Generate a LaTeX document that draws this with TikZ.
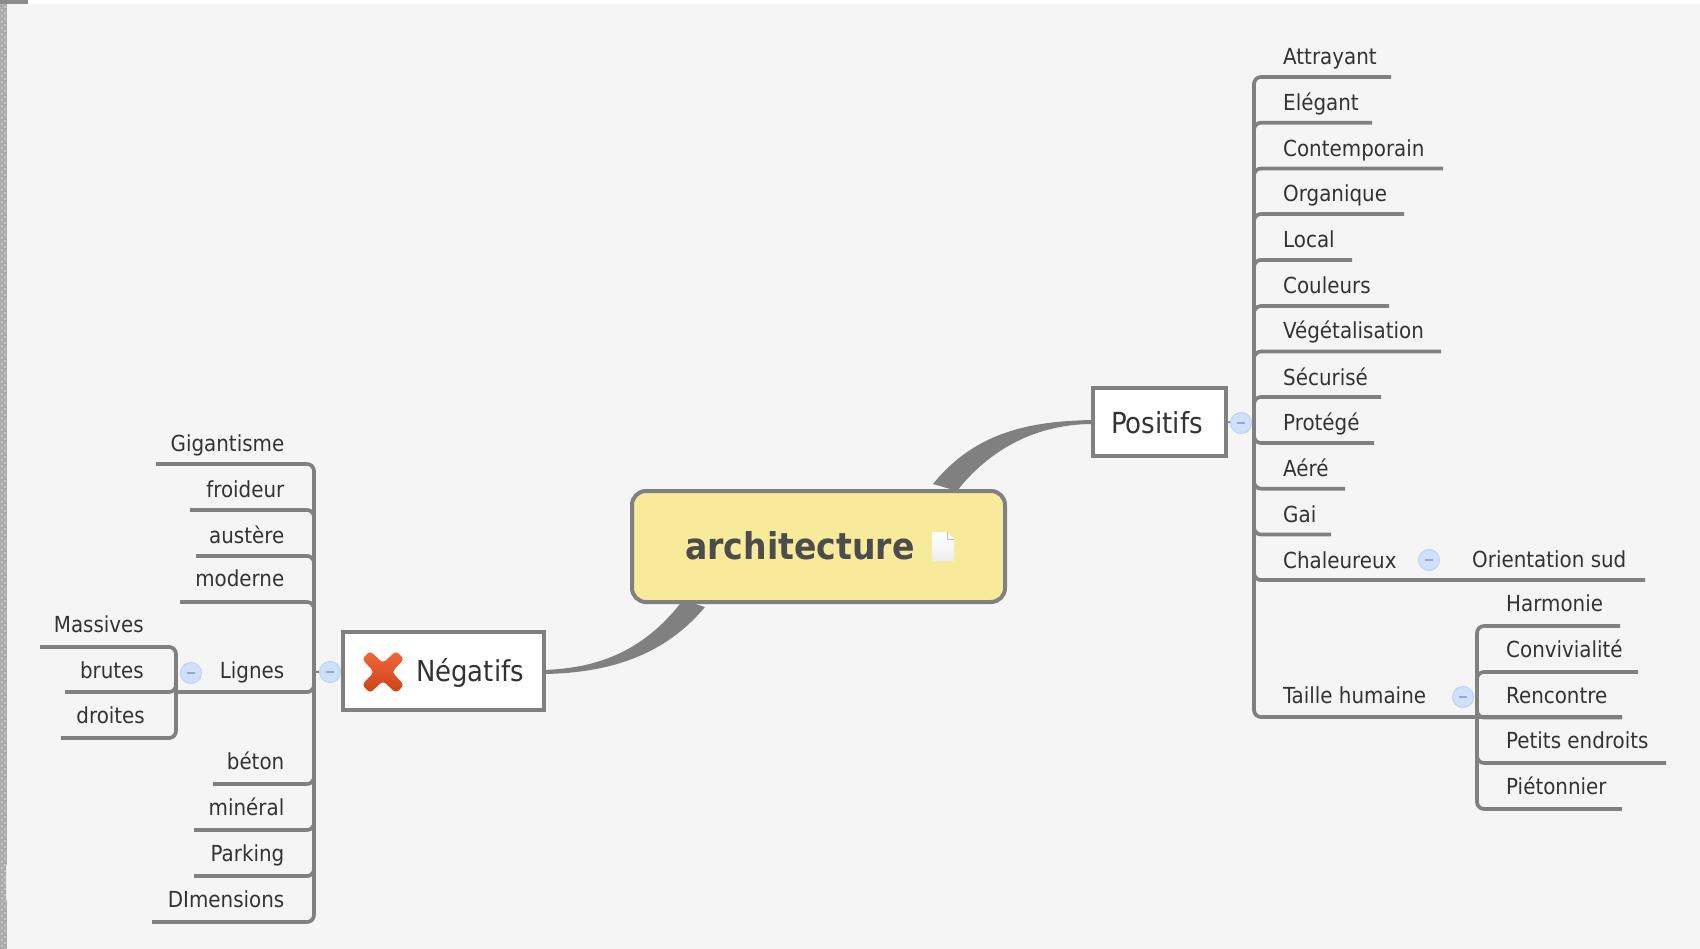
\documentclass[tikz,border=0pt]{standalone}
\usepackage{fontspec}
\setmainfont{DejaVu Sans Condensed}
\definecolor{bgc}{HTML}{F5F5F5}
\definecolor{linec}{HTML}{808080}
\definecolor{txtc}{HTML}{333333}
\definecolor{ybox}{HTML}{F8EA9B}
\definecolor{bubf}{HTML}{D0E0FB}
\definecolor{bubd}{HTML}{BBD1F6}
\definecolor{bubm}{HTML}{8FAAD8}
\definecolor{stripc}{HTML}{ABABAB}
\definecolor{stripl}{HTML}{C6C6C6}
\definecolor{xtop}{HTML}{F2683C}
\definecolor{xbot}{HTML}{CC4214}
\usetikzlibrary{calc}
\tikzset{
  x=1pt,y=-1pt,
  lbl/.style={inner sep=0pt,text=txtc,font=\fontsize{22.1}{26}\selectfont},
  lblr/.style={lbl,anchor=base east},
  lbll/.style={lbl,anchor=base west},
  branch/.style={draw=linec,line width=3.7pt,rounded corners=7pt},
  topicbox/.style={draw=linec,line width=4.5pt,fill=white,inner sep=0pt},
  bub/.style={circle,draw=bubd,fill=bubf,line width=1pt,minimum size=21pt,inner sep=0pt,
    path picture={\draw[bubm,line width=1.2pt] ($(path picture bounding box.center)+(-4,0)$)--($(path picture bounding box.center)+(4,0)$);}},
  stub/.style={draw=linec,line width=2pt},
  taper/.style={fill=linec,draw=none},
}
\begin{document}
\begin{tikzpicture}
\useasboundingbox (0,0) rectangle (1700,949);
\fill[bgc] (0,0) rectangle (1700,949);
\fill[white] (0,0) rectangle (1700,4);
\fill[stripc] (0,0) rectangle (7,949);
\foreach \yy in {3,9,...,945}{
  \fill[stripl] (1,\yy) rectangle (3,\yy+2);
  \fill[stripl] (4,\yy+3) rectangle (6,\yy+5);
}
\fill[white!70!stripc] (5.5,865) rectangle (7,900);
\fill[black!45] (0,0) rectangle (28,4);

% central topic and main connectors
\fill[taper] (1093,420) .. controls (1030,421) and (975,432) .. (933,484) -- (957,491) .. controls (985,455) and (1030,424) .. (1093,424) -- cycle;
\fill[taper] (544,670) .. controls (600,668) and (645,650) .. (683,600) -- (705,607) .. controls (665,655) and (610,673) .. (544,674) -- cycle;
\node[draw=linec,line width=4pt,fill=ybox,rounded corners=14pt,minimum width=373pt,minimum height=111pt,inner sep=0pt] (root) at (818.5,546.5) {};
\node[inner sep=0pt,anchor=base west,text=black!70,font=\bfseries\fontsize{36.8}{42}\selectfont] (rootlabel) at (685,559) {architecture};
\shade[top color=white,bottom color=black!7] (932,532) -- (947,532) -- (954,539) -- (954,561) -- (932,561) -- cycle;
\draw[black!25,line width=.7pt] (947,532) -- (947,539) -- (954,539);

% main topics
\node[topicbox,minimum width=133pt,minimum height=68pt] (pos) at (1159.5,422) {};
\node[inner sep=0pt,anchor=base west,text=txtc,font=\fontsize{29}{34}\selectfont] (poslabel) at (1111,433) {Positifs};
\node[topicbox,minimum width=201pt,minimum height=78pt] (neg) at (443.5,671) {};
\node[inner sep=0pt,text=txtc,font=\fontsize{28.8}{34}\selectfont,anchor=base west] (neglabel) at (416,681) {Négatifs};
\shade[top color=xtop,bottom color=xbot,rounded corners=3.5pt]
  (362,659) -- (370,651) -- (383,663) -- (396,651) -- (404,659) -- (392,672) -- (404,685) -- (396,693) -- (383,681) -- (370,693) -- (362,685) -- (374,672) -- cycle;

% hubs
\coordinate (hubR) at (1254,423);
\coordinate (hubL) at (314,672);
\coordinate (hubT) at (1477,717);
\coordinate (hubV) at (176,692);

% right branch
\foreach \n/\t/\y/\e/\o in {
  a/Attrayant/77/1391/12, b/Elégant/122.7/1372/12, c/Contemporain/168.5/1443/12,
  d/Organique/214/1404/12, e/Local/260/1352/12, f/Couleurs/306/1389/12,
  g/Végétalisation/351.5/1441/12.5, h/Sécurisé/397/1381/12, i/Protégé/443/1374/13,
  j/Aéré/488.7/1345/12, k/Gai/534.5/1331/12.5, l/Chaleureux/580/1645/12, m/Taille humaine/717/1622/14}{
  \node[lbll] (r\n) at (1283,\y-\o) {\t};
  \coordinate (re\n) at (\e,\y);
  \draw[branch] (hubR) |- (re\n);
}
\node[lbll] (rl2) at (1472,567) {Orientation sud};

% taille humaine children
\foreach \n/\t/\y/\e/\o in {a/Harmonie/626/1620/15, b/Convivialité/672/1638/15, c/Rencontre/717.5/1622/14, d/Petits endroits/763/1666/14.5, e/Piétonnier/809/1622/14.5}{
  \node[lbll] (t\n) at (1506,\y-\o) {\t};
  \coordinate (te\n) at (\e,\y);
  \draw[branch] (hubT) |- (te\n);
}

% left branch
\foreach \n/\t/\y/\e/\o in {
  a/Gigantisme/464/156/13, b/froideur/510/190/13, c/austère/556/196/13, d/moderne/602/180/16,
  e/Lignes/692/176/14, f/béton/784/213/15, g/minéral/830/194/15, h/Parking/876/194/15, i/DImensions/922/152/15}{
  \node[lblr] (l\n) at (284.5,\y-\o) {\t};
  \coordinate (le\n) at (\e,\y);
  \draw[branch] (hubL) |- (le\n);
}
% lignes children
\foreach \n/\t/\y/\e/\r/\o in {a/Massives/647/40/144/15, b/brutes/692/65/144/14, c/droites/738/61/145/14.5}{
  \node[lblr] (v\n) at (\r,\y-\o) {\t};
  \coordinate (ve\n) at (\e,\y);
  \draw[branch] (hubV) |- (ve\n);
}

% collapse bubbles
\draw[stub] (pos.east) -- (hubR);
\draw[stub] (neg.west) -- (hubL);
\node[bub] (bpos) at (1241,423) {};
\node[bub] (bneg) at (330,672) {};
\node[bub] (bch) at (1429,560) {};
\node[bub] (btm) at (1463,697) {};
\node[bub] (bli) at (191,673) {};
\end{tikzpicture}
\end{document}
